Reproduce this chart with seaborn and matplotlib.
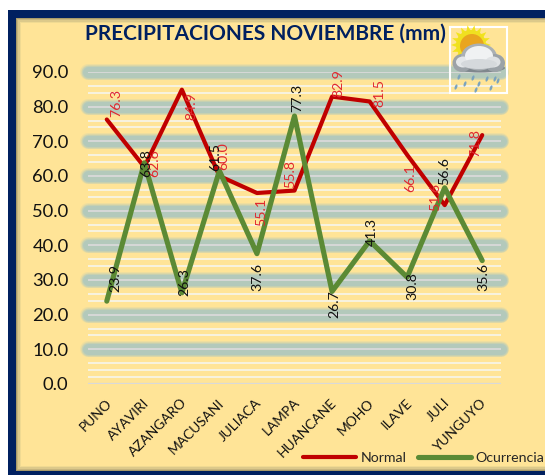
import numpy as np
import pandas as pd
import seaborn as sns
import matplotlib.pyplot as plt
from matplotlib.patches import Rectangle, Circle, Ellipse, Polygon
from matplotlib.transforms import ScaledTranslation

estaciones = ["PUNO", "AYAVIRI", "AZANGARO", "MACUSANI", "JULIACA", "LAMPA",
              "HUANCANE", "MOHO", "ILAVE", "JULI", "YUNGUYO"]
normal = [76.3, 62.6, 84.9, 60.0, 55.1, 55.8, 82.9, 81.5, 66.1, 51.6, 71.8]
ocurrencia = [23.9, 63.8, 26.3, 61.5, 37.6, 77.3, 26.7, 41.3, 30.8, 56.6, 35.6]
ticks_y = [0, 10, 20, 30, 40, 50, 60, 70, 80, 90]

# label offsets in points, one per station
off_normal = [(6.5, 12), (7, 3), (6.5, -12), (3, 14), (3, -14), (-3, 12), (4.5, 10), (7, 6), (2.5, -16.5), (-6.5, 6), (-5, -6)]
off_ocurr = [(6, 16.5), (1.5, 0), (2, 8), (-3, 10), (0, -17), (2, 13), (1.5, -9), (1.5, 6.5), (4, -6.5), (0, 12), (1, -12)]

sns.set_style("white")
plt.rcParams['font.family'] = ['Lato', 'DejaVu Sans']

W, H = 545, 475
fig = plt.figure(figsize=(W / 100, H / 100), dpi=100, facecolor="white")

# background layer in pixel coordinates
bg = fig.add_axes([0, 0, 1, 1], zorder=0)
bg.set_xlim(0, W)
bg.set_ylim(H, 0)
bg.axis("off")
bg.add_patch(Rectangle((8, 10), W, H, color="#002060", lw=0))
for i, c in enumerate(["#a89a6a", "#c6b57e", "#dcc98a", "#f0da92"]):
    bg.add_patch(Rectangle((16 + i * 1.2, 18 + i * 1.2), W, 453 - i * 2.4, color=c, lw=0))
bg.add_patch(Rectangle((21, 23), W, 443, color="#ffe497", lw=0))

ax = fig.add_axes([88 / W, (H - 384) / H, 413 / W, 312 / H], zorder=1)
ax.patch.set_alpha(0)
df = pd.DataFrame({"estacion": estaciones, "Normal": normal, "Ocurrencia": ocurrencia})

# glowing bands behind the main gridlines
trans = ax.get_yaxis_transform()
for v in ticks_y[1:]:
    for lw, a in [(11.5, 0.2), (10.5, 0.3), (9.5, 0.4), (8, 0.8)]:
        ax.plot([0.0, 1.0], [v, v], transform=trans, color="#aec8bf", lw=lw, alpha=a,
                solid_capstyle="round", clip_on=False, zorder=1)
for v in np.arange(0, 91, 2):
    major = v % 10 == 0
    if major or v % 10 in (4, 6) or v == 2:
        ax.axhline(v, color="#d9d9d9" if major else "#f7f4e6", lw=1.6 if v == 0 else 1.3, zorder=2)

sns.lineplot(data=df, x="estacion", y="Normal", color="#c00000", lw=3.0, sort=False,
             label="Normal", ax=ax, zorder=3, solid_capstyle="round")
sns.lineplot(data=df, x="estacion", y="Ocurrencia", color="#5b8a35", lw=3.7, sort=False,
             label="Ocurrencia", ax=ax, zorder=4, solid_capstyle="round")

for i in range(len(estaciones)):
    ax.annotate(f"{normal[i]:.1f}", (i, normal[i]), xytext=off_normal[i], textcoords="offset points",
                rotation=90, ha="center", va="center", fontsize=10.2, color="#e0282f", zorder=5)
    ax.annotate(f"{ocurrencia[i]:.1f}", (i, ocurrencia[i]), xytext=off_ocurr[i], textcoords="offset points",
                rotation=90, ha="center", va="center", fontsize=10.2, color="#111111", zorder=5)

ax.set_xlim(-0.5, 10.5)
ax.set_ylim(0, 90)
ax.set_xlabel("")
ax.set_ylabel("")
ax.set_yticks(ticks_y)
ax.set_yticklabels([f"{v:.1f}" for v in ticks_y], fontsize=13.2, color="#111111")
ax.set_xticks(range(len(estaciones)))
ax.set_xticklabels(estaciones, fontsize=9.9, rotation=45, ha="right", rotation_mode="anchor", color="#111111")
ax.tick_params(axis="y", length=0, pad=14)
ax.tick_params(axis="x", length=0, pad=9)
shift = ScaledTranslation(-1.5 / 100, 0, fig.dpi_scale_trans)
for lab in ax.get_xticklabels():
    lab.set_transform(lab.get_transform() + shift)
sns.despine(ax=ax, left=True, bottom=True)

ax.legend(loc="lower left", bbox_to_anchor=(292 / W, 0), bbox_transform=fig.transFigure,
          ncol=2, frameon=False, fontsize=10.2, handlelength=3.75, handletextpad=0.3,
          columnspacing=0.8, borderpad=0.3)

fig.text(85 / W, (H - 33.5) / H, "PRECIPITACIONES NOVIEMBRE (mm)", fontsize=15.05, fontweight="bold",
         color="#002060", ha="left", va="center")

# weather icon, on top of everything
ic = fig.add_axes([0, 0, 1, 1], zorder=3)
ic.set_xlim(0, W)
ic.set_ylim(H, 0)
ic.axis("off")
ic.add_patch(Rectangle((449.5, 27), 57.5, 66, fc="none", ec="white", lw=1.5))
for a in np.arange(0, 360, 20):
    r = np.radians(a)
    ic.add_patch(Polygon([(471 + 20 * np.cos(r), 45 + 20 * np.sin(r)),
                          (471 + 13 * np.cos(r + 0.2), 45 + 13 * np.sin(r + 0.2)),
                          (471 + 13 * np.cos(r - 0.2), 45 + 13 * np.sin(r - 0.2))], color="#f2e41c", lw=0))
ic.add_patch(Circle((471, 45), 15, color="#f0e020", lw=0))
ic.add_patch(Circle((472, 46), 12, color="#e9a51f", lw=0))
for x, y, w, h, c in [(480, 68, 50, 9, "#7f878d"), (462, 63, 19, 18, "#9ba2a7"), (479, 57, 36, 27, "#aab0b4"),
                      (495, 63, 20, 18, "#9ba2a7"), (463, 62, 14, 11, "#e4e7e9"), (479, 56, 28, 20, "#f0f2f3"),
                      (493, 62, 15, 11, "#dfe2e4"), (479, 64, 36, 10, "#d5d9dc")]:
    ic.add_patch(Ellipse((x, y), w, h, color=c, lw=0))
for x, y in [(459, 77), (473, 78), (487, 79), (495, 79), (456, 87), (465, 84), (479, 84), (491, 88), (498, 81), (476, 90)]:
    ic.add_patch(Ellipse((x, y), 2.5, 5.5, angle=20, color="#7ba3bd", lw=0))

fig.savefig("out.png", dpi=100, facecolor=fig.get_facecolor())
